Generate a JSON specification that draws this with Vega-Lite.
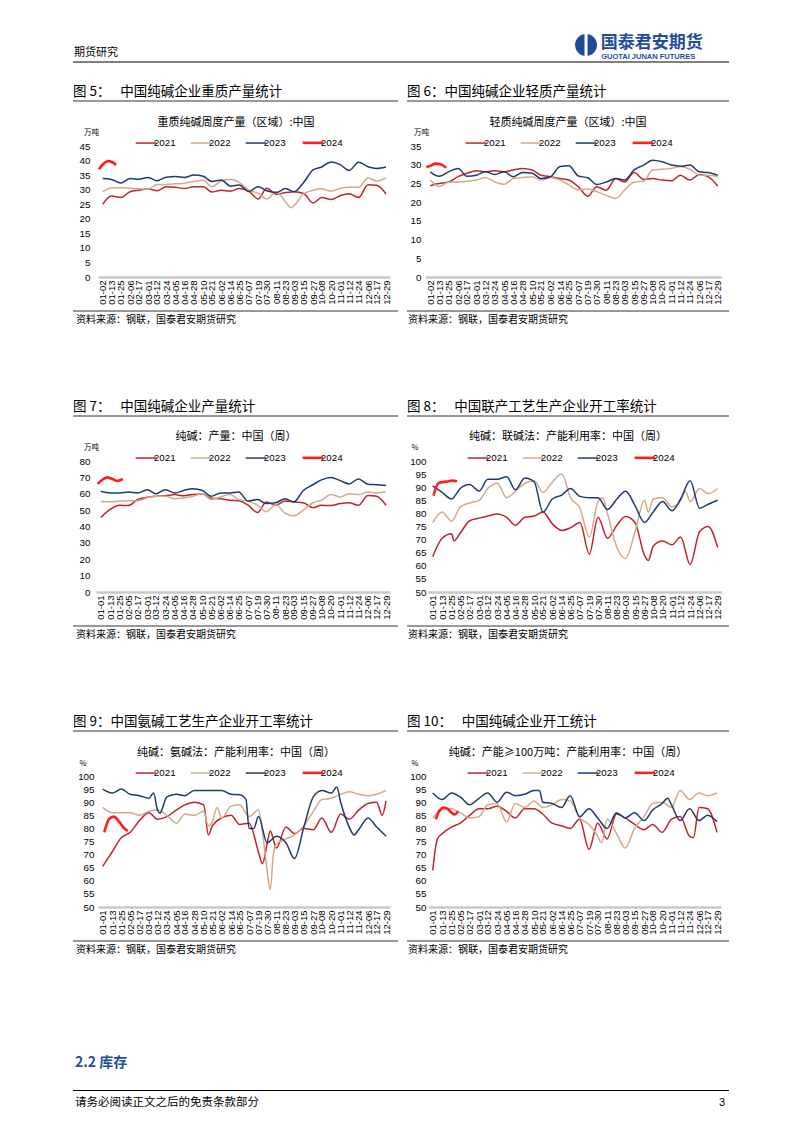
{
"$schema": "https://vega.github.io/schema/vega-lite/v6.json",
"background": "white",
"padding": {"left": 72, "top": 32, "right": 74, "bottom": 24},
"config": {
  "view": {"stroke": null},
  "font": "Noto Sans CJK SC",
  "title": {"anchor": "start", "frame": "group", "fontSize": 13.5, "fontWeight": "normal", "baseline": "bottom", "offset": 2, "font": "Noto Sans CJK SC", "color": "#000"},
  "axis": {"labelFont": "Liberation Sans", "labelColor": "#000", "grid": false, "titleFont": "Noto Sans CJK SC", "titleFontWeight": "normal", "titleColor": "#000"},
  "axisY": {"domain": false, "ticks": false, "labelFontSize": 9.8, "titleAngle": 0, "titleAlign": "center", "titleBaseline": "middle", "titleFontSize": 7.5},
  "axisX": {"domainColor": "#c8c8c8", "domainWidth": 2.5, "ticks": false, "labelAngle": 270, "labelFontSize": 9.5, "labelPadding": 3, "labelOverlap": false, "labelFlush": false, "labelBound": false},
  "legend": {"orient": "none", "direction": "horizontal", "symbolType": "stroke", "symbolSize": 420, "symbolStrokeWidth": 1.5, "labelFontSize": 9.8, "labelFont": "Liberation Sans", "labelColor": "#000", "columnPadding": 11, "labelOffset": 3, "padding": 0},
  "line": {"interpolate": "monotone"}
},
"datasets": {
"c5": [
{"d":"2020-12-28","2024":37},
{"d":"2021-01-02","2021":25,"2022":29.3,"2023":33.8},
{"d":"2021-01-03","2024":38.9},
{"d":"2021-01-09","2024":39.8},
{"d":"2021-01-13","2021":27.8,"2022":30.6,"2023":33.5},
{"d":"2021-01-14","2024":39.5},
{"d":"2021-01-19","2024":38.5},
{"d":"2021-01-25","2021":27.3,"2022":30.7,"2023":32.3},
{"d":"2021-02-06","2021":29.3,"2022":30.5,"2023":33.8},
{"d":"2021-02-17","2021":29.8,"2022":30.3,"2023":33.6},
{"d":"2021-03-01","2021":30.3,"2022":30.2,"2023":34.2},
{"d":"2021-03-12","2021":29.6,"2022":31.8,"2023":33.1},
{"d":"2021-03-24","2021":31,"2022":31.8,"2023":34.3},
{"d":"2021-04-05","2021":30.8,"2022":32,"2023":34.5},
{"d":"2021-04-16","2021":30.4,"2022":32.2,"2023":34.2},
{"d":"2021-04-28","2021":31,"2022":32.8,"2023":35},
{"d":"2021-05-10","2021":31,"2022":33.2,"2023":34.6},
{"d":"2021-05-21","2021":29.2,"2022":31,"2023":32.8},
{"d":"2021-06-02","2021":29.8,"2022":33,"2023":33.3},
{"d":"2021-06-14","2021":29.5,"2022":33.5,"2023":31.2},
{"d":"2021-06-25","2021":30.4,"2022":32.5,"2023":31.6},
{"d":"2021-07-07","2021":29.5,"2022":29.8,"2023":29.4},
{"d":"2021-07-19","2021":26.8,"2022":28.8,"2023":31},
{"d":"2021-07-30","2021":30.5,"2022":26.8,"2023":29.6},
{"d":"2021-08-11","2021":28.4,"2022":29.3,"2023":29},
{"d":"2021-08-23","2021":29,"2022":25.8,"2023":30.4},
{"d":"2021-08-30","2022":23.8},
{"d":"2021-09-03","2021":29.3,"2022":24.6,"2023":29.3},
{"d":"2021-09-15","2021":28.7,"2022":28.6,"2023":32.5},
{"d":"2021-09-27","2021":25.4,"2022":29.8,"2023":36.8},
{"d":"2021-10-08","2021":27.3,"2022":30.3,"2023":37.8},
{"d":"2021-10-20","2021":26.6,"2022":29.5,"2023":39.5},
{"d":"2021-11-01","2021":28,"2022":30.5,"2023":38.5},
{"d":"2021-11-12","2021":28.6,"2022":30.8,"2023":36.6},
{"d":"2021-11-24","2021":27.3,"2022":30.8,"2023":39.4},
{"d":"2021-12-06","2021":31.7,"2022":34,"2023":37.9},
{"d":"2021-12-17","2021":31.5,"2022":33,"2023":37.3},
{"d":"2021-12-29","2021":28.5,"2022":34,"2023":37.8}
],
"c6": [
{"d":"2020-12-28","2024":29.3},
{"d":"2021-01-02","2021":24.4,"2022":25.9,"2023":28.1},
{"d":"2021-01-03","2024":29.8},
{"d":"2021-01-09","2024":30.3},
{"d":"2021-01-13","2021":25,"2022":24.2,"2023":26.9},
{"d":"2021-01-15","2024":30.1},
{"d":"2021-01-22","2024":29.2},
{"d":"2021-01-25","2021":25.4,"2022":25.3,"2023":28.1},
{"d":"2021-02-06","2021":26.8,"2022":25.4,"2023":29},
{"d":"2021-02-17","2021":27.7,"2022":25.6,"2023":26.9},
{"d":"2021-03-01","2021":28.4,"2022":25.9,"2023":27.2},
{"d":"2021-03-12","2021":28.1,"2022":26.6,"2023":28.1},
{"d":"2021-03-24","2021":28.4,"2022":25.4,"2023":27.4},
{"d":"2021-04-05","2021":28.1,"2022":24.8,"2023":28.1},
{"d":"2021-04-16","2021":28.6,"2022":26.3,"2023":26.8},
{"d":"2021-04-28","2021":29,"2022":26.6,"2023":27.9},
{"d":"2021-05-10","2021":28.6,"2022":26.8,"2023":27.7},
{"d":"2021-05-21","2021":27.2,"2022":25.9,"2023":26.3},
{"d":"2021-06-02","2021":26.8,"2022":26.6,"2023":26.8},
{"d":"2021-06-14","2021":26.3,"2022":25.9,"2023":29.5},
{"d":"2021-06-25","2021":25.9,"2022":24.6,"2023":29.7},
{"d":"2021-07-07","2021":24.1,"2022":23.3,"2023":27},
{"d":"2021-07-19","2021":21.6,"2022":23.5,"2023":26.5},
{"d":"2021-07-30","2021":24.1,"2022":22.8,"2023":24.7},
{"d":"2021-08-11","2021":23.2,"2022":21.8,"2023":25.4},
{"d":"2021-08-23","2021":26.3,"2022":21,"2023":26.3},
{"d":"2021-09-03","2021":25.4,"2022":23.2,"2023":25.9},
{"d":"2021-09-15","2021":27.9,"2022":25.4,"2023":28.6},
{"d":"2021-09-27","2021":26.1,"2022":25.6,"2023":29.9},
{"d":"2021-10-08","2021":26.3,"2022":28.6,"2023":31.2},
{"d":"2021-10-20","2021":25.9,"2022":28.8,"2023":30.8},
{"d":"2021-11-01","2021":25.7,"2022":29,"2023":29.9},
{"d":"2021-11-12","2021":27.2,"2022":29.5,"2023":29.6},
{"d":"2021-11-24","2021":25.9,"2022":28.8,"2023":29.9},
{"d":"2021-12-06","2021":27.4,"2022":27.2,"2023":28.1},
{"d":"2021-12-17","2021":26.8,"2022":27.2,"2023":27.9},
{"d":"2021-12-29","2021":24.3,"2022":26.8,"2023":27.2}
],
"c7": [
{"d":"2020-12-28","2024":66},
{"d":"2021-01-01","2021":45.5,"2022":55.2,"2023":61.5},
{"d":"2021-01-03","2024":68.5},
{"d":"2021-01-09","2024":70},
{"d":"2021-01-13","2021":50.5,"2022":55,"2023":60.5},
{"d":"2021-01-16","2024":69},
{"d":"2021-01-22","2024":67.8},
{"d":"2021-01-25","2021":53,"2022":55.5,"2023":60.5},
{"d":"2021-01-29","2024":69},
{"d":"2021-02-05","2021":52.8,"2022":55.8,"2023":61},
{"d":"2021-02-17","2021":56.5,"2022":55.8,"2023":60.5},
{"d":"2021-03-01","2021":57.8,"2022":57.5,"2023":62.5},
{"d":"2021-03-12","2021":58.5,"2022":58.5,"2023":60},
{"d":"2021-03-24","2021":58.8,"2022":58.5,"2023":62.5},
{"d":"2021-04-05","2021":59.5,"2022":57,"2023":60.5},
{"d":"2021-04-16","2021":58.8,"2022":57.5,"2023":62},
{"d":"2021-04-28","2021":59.5,"2022":58.5,"2023":63},
{"d":"2021-05-10","2021":59.8,"2022":60,"2023":62},
{"d":"2021-05-21","2021":57.2,"2022":56.5,"2023":58.5},
{"d":"2021-06-02","2021":57,"2022":58,"2023":60.5},
{"d":"2021-06-14","2021":56,"2022":59.5,"2023":60.5},
{"d":"2021-06-25","2021":55.8,"2022":56.5,"2023":61},
{"d":"2021-07-07","2021":53,"2022":55.5,"2023":55.5},
{"d":"2021-07-19","2021":48.5,"2022":53,"2023":56.5},
{"d":"2021-07-30","2021":55,"2022":49,"2023":54},
{"d":"2021-08-11","2021":53,"2022":53.5,"2023":54.5},
{"d":"2021-08-23","2021":55.5,"2022":48,"2023":57},
{"d":"2021-09-03","2021":55,"2022":46.5,"2023":55},
{"d":"2021-09-15","2021":54.5,"2022":50,"2023":62},
{"d":"2021-09-27","2021":51.5,"2022":54.5,"2023":65.5},
{"d":"2021-10-08","2021":53,"2022":56,"2023":68.5},
{"d":"2021-10-20","2021":52.8,"2022":59.5,"2023":70},
{"d":"2021-11-01","2021":54,"2022":58,"2023":68},
{"d":"2021-11-12","2021":54.5,"2022":60,"2023":66},
{"d":"2021-11-24","2021":53,"2022":59.5,"2023":69},
{"d":"2021-12-06","2021":59,"2022":61,"2023":65.8},
{"d":"2021-12-17","2021":58.5,"2022":60.5,"2023":65.5},
{"d":"2021-12-29","2021":53,"2022":61,"2023":65}
],
"c8": [
{"d":"2021-01-01","2021":63.5,"2022":76.5,"2023":90.5},
{"d":"2021-01-02","2024":86.8},
{"d":"2021-01-08","2024":91.5},
{"d":"2021-01-13","2021":70.5,"2022":80.5,"2023":88},
{"d":"2021-01-14","2024":92},
{"d":"2021-01-20","2024":92.2},
{"d":"2021-01-25","2021":72.2,"2022":77,"2023":85.5},
{"d":"2021-01-26","2024":92.5},
{"d":"2021-01-28","2021":69.5},
{"d":"2021-02-01","2024":92.3},
{"d":"2021-02-05","2021":72.5,"2022":82.5,"2023":89.5},
{"d":"2021-02-17","2021":77.2,"2022":84,"2023":91},
{"d":"2021-03-01","2021":78.2,"2022":85,"2023":88.5},
{"d":"2021-03-12","2021":79,"2022":89.5,"2023":93},
{"d":"2021-03-24","2021":79.8,"2022":91.5,"2023":93},
{"d":"2021-04-05","2021":78.5,"2022":86,"2023":94},
{"d":"2021-04-16","2021":75.5,"2022":88.5,"2023":89},
{"d":"2021-04-28","2021":78.5,"2022":91.5,"2023":93.5},
{"d":"2021-05-10","2021":79,"2022":92.5,"2023":92},
{"d":"2021-05-21","2021":80.5,"2022":88,"2023":80.5},
{"d":"2021-06-02","2021":76,"2022":92,"2023":85.5},
{"d":"2021-06-14","2021":73.5,"2022":95,"2023":87},
{"d":"2021-06-25","2021":74.5,"2022":86,"2023":89.5},
{"d":"2021-07-07","2021":76.5,"2022":82,"2023":86.5},
{"d":"2021-07-19","2021":64.5,"2022":71,"2023":86},
{"d":"2021-07-30","2021":78.5,"2022":84.5,"2023":86},
{"d":"2021-08-05","2022":86},
{"d":"2021-08-11","2021":70.5,"2022":80,"2023":81.5},
{"d":"2021-08-23","2021":75.5,"2022":67,"2023":85.5},
{"d":"2021-09-03","2021":78.8,"2022":62.8,"2023":88.5},
{"d":"2021-09-15","2021":76.5,"2022":73,"2023":83},
{"d":"2021-09-27","2021":64,"2022":85,"2023":76.5},
{"d":"2021-10-02","2021":62,"2022":80.5},
{"d":"2021-10-08","2021":67.5,"2022":85.5,"2023":80.5},
{"d":"2021-10-20","2021":69.5,"2022":86,"2023":84.5},
{"d":"2021-11-01","2021":68,"2022":82.5,"2023":81},
{"d":"2021-11-12","2021":71,"2022":85,"2023":85.5},
{"d":"2021-11-18","2022":88.5},
{"d":"2021-11-24","2021":60.5,"2022":84.5,"2023":92.5},
{"d":"2021-12-06","2021":73,"2022":89.5,"2023":82},
{"d":"2021-12-17","2021":75,"2022":87.5,"2023":83.5},
{"d":"2021-12-29","2021":67,"2022":89.5,"2023":85}
],
"c9": [
{"d":"2021-01-01","2021":65.5,"2022":88,"2023":95},
{"d":"2021-01-03","2024":78.5},
{"d":"2021-01-09","2024":83.5},
{"d":"2021-01-13","2021":71,"2022":86,"2023":93.5},
{"d":"2021-01-15","2024":84.5},
{"d":"2021-01-21","2024":83},
{"d":"2021-01-25","2021":76.5,"2022":86,"2023":95},
{"d":"2021-01-27","2024":80.5},
{"d":"2021-02-02","2024":79},
{"d":"2021-02-05","2021":78.5,"2022":86,"2023":93},
{"d":"2021-02-17","2021":83,"2022":85,"2023":92.5},
{"d":"2021-03-01","2021":86,"2022":86.5,"2023":91.5},
{"d":"2021-03-07","2023":93.5},
{"d":"2021-03-12","2021":83.5,"2022":87,"2023":87},
{"d":"2021-03-15","2023":85.8},
{"d":"2021-03-24","2021":84.5,"2022":85,"2023":92},
{"d":"2021-04-05","2021":87,"2022":82,"2023":93},
{"d":"2021-04-16","2021":89,"2022":85.5,"2023":92.5},
{"d":"2021-04-28","2021":90,"2022":85,"2023":94.5},
{"d":"2021-05-10","2021":89,"2022":86.5,"2023":94.5},
{"d":"2021-05-16","2021":77.5,"2022":81},
{"d":"2021-05-21","2021":81,"2022":82.5,"2023":94.5},
{"d":"2021-05-27","2022":88},
{"d":"2021-06-02","2021":84,"2022":84,"2023":94.5},
{"d":"2021-06-14","2021":85,"2022":88.5,"2023":93},
{"d":"2021-06-25","2021":81.5,"2022":89,"2023":92.8},
{"d":"2021-07-03","2023":91},
{"d":"2021-07-07","2021":82,"2022":84.5,"2023":80},
{"d":"2021-07-13","2023":80},
{"d":"2021-07-19","2021":71,"2022":87,"2023":84.5},
{"d":"2021-07-24","2021":66.5,"2022":79},
{"d":"2021-07-30","2021":74,"2022":64,"2023":74.5},
{"d":"2021-08-03","2021":79,"2022":56.5},
{"d":"2021-08-07","2022":70},
{"d":"2021-08-11","2021":72.5,"2022":74,"2023":77},
{"d":"2021-08-23","2021":80.5,"2022":76,"2023":74.5},
{"d":"2021-09-03","2021":78,"2022":77.5,"2023":68.5},
{"d":"2021-09-15","2021":80,"2022":81,"2023":80.5},
{"d":"2021-09-27","2021":79.5,"2022":86.5,"2023":92},
{"d":"2021-10-08","2021":84,"2022":91,"2023":94.5},
{"d":"2021-10-20","2021":78.5,"2022":91.5,"2023":93.5},
{"d":"2021-10-27","2023":95.8},
{"d":"2021-11-01","2021":85.5,"2022":93,"2023":90},
{"d":"2021-11-12","2021":83.5,"2022":94,"2023":80.5},
{"d":"2021-11-18","2023":77.5},
{"d":"2021-11-24","2021":87,"2022":93,"2023":79.5},
{"d":"2021-12-06","2021":89.5,"2022":92.5,"2023":84},
{"d":"2021-12-17","2021":90,"2022":93,"2023":80.5},
{"d":"2021-12-24","2021":85},
{"d":"2021-12-29","2021":90.5,"2022":94.5,"2023":77}
],
"c10": [
{"d":"2021-01-01","2021":64,"2022":84,"2023":93.5},
{"d":"2021-01-05","2024":83.5},
{"d":"2021-01-07","2021":76},
{"d":"2021-01-10","2024":87},
{"d":"2021-01-13","2021":78,"2022":87,"2023":91},
{"d":"2021-01-15","2024":88},
{"d":"2021-01-20","2024":87.5},
{"d":"2021-01-25","2021":80.5,"2022":87.5,"2023":93.5,"2024":86},
{"d":"2021-01-29","2024":85.3},
{"d":"2021-02-02","2024":86.5},
{"d":"2021-02-05","2021":82,"2022":86,"2023":92},
{"d":"2021-02-17","2021":85,"2022":84,"2023":89},
{"d":"2021-03-01","2021":87.5,"2022":84.5,"2023":91.5},
{"d":"2021-03-12","2021":87.5,"2022":89,"2023":93.5},
{"d":"2021-03-24","2021":88.5,"2022":89.5,"2023":90},
{"d":"2021-04-05","2021":86.5,"2022":82.5,"2023":93.8},
{"d":"2021-04-16","2021":84,"2022":89.5,"2023":92.5},
{"d":"2021-04-28","2021":87.5,"2022":88,"2023":93},
{"d":"2021-05-10","2021":87.5,"2022":90.5,"2023":94.5},
{"d":"2021-05-17","2023":94.5},
{"d":"2021-05-21","2021":85.5,"2022":88,"2023":90},
{"d":"2021-06-02","2021":82,"2022":89,"2023":89.5},
{"d":"2021-06-14","2021":81,"2022":91,"2023":88},
{"d":"2021-06-25","2021":80,"2022":90.5,"2023":92.5},
{"d":"2021-07-07","2021":83.5,"2022":84,"2023":84.5},
{"d":"2021-07-19","2021":72,"2022":81.5,"2023":87.5},
{"d":"2021-07-30","2021":82,"2022":77,"2023":84},
{"d":"2021-08-04","2022":74.5},
{"d":"2021-08-11","2021":76,"2022":83.5,"2023":80},
{"d":"2021-08-23","2021":85.5,"2022":78,"2023":86},
{"d":"2021-09-03","2021":84,"2022":72.5,"2023":84},
{"d":"2021-09-15","2021":81.5,"2022":80,"2023":86},
{"d":"2021-09-27","2021":79.5,"2022":84.5,"2023":83},
{"d":"2021-10-08","2021":81.5,"2022":89.5,"2023":87},
{"d":"2021-10-20","2021":78.5,"2022":90,"2023":89.5},
{"d":"2021-10-27","2023":91.5},
{"d":"2021-11-01","2021":83.5,"2022":88,"2023":89},
{"d":"2021-11-12","2021":84.5,"2022":94.5,"2023":83},
{"d":"2021-11-24","2021":77,"2022":91,"2023":87.5},
{"d":"2021-11-29","2021":76.5},
{"d":"2021-12-06","2021":88,"2022":93.5,"2023":83},
{"d":"2021-12-17","2021":87.5,"2022":92.5,"2023":85},
{"d":"2021-12-29","2021":78.5,"2022":93.5,"2023":82.5}
]
},
"bounds": "flush",
"columns": 2,
"spacing": {"row": 0, "column": 0},
"resolve": {"scale": {"color": "independent"}, "legend": {"color": "independent"}},
"concat": [
{
  "width": 334, "height": 69,
  "data": {"values": [{}]},
  "layer": [
    {"mark": {"type": "rule", "color": "#000", "strokeWidth": 1.2}, "encoding": {"y": {"datum": 0.5652, "type": "quantitative", "scale": {"domain": [0, 1]}, "axis": null}}},
    {"mark": {"type": "text", "text": "期货研究", "align": "left", "baseline": "middle", "fontSize": 11, "dx": 1, "color": "#000"}, "encoding": {"x": {"datum": 0, "type": "quantitative", "scale": {"domain": [0, 1]}, "axis": null}, "y": {"datum": 0.6957, "type": "quantitative", "axis": null}}}
  ]
},
{
  "width": 322, "height": 69,
  "data": {"values": [{}]},
  "layer": [
    {"mark": {"type": "rule", "color": "#000", "strokeWidth": 1.2}, "encoding": {"y": {"datum": 0.5652, "type": "quantitative", "scale": {"domain": [0, 1]}, "axis": null}}},
    {"mark": {"type": "point", "shape": "circle", "filled": true, "size": 480, "color": "#1E4C9A", "opacity": 1}, "encoding": {"x": {"datum": 0.556, "type": "quantitative", "scale": {"domain": [0, 1]}, "axis": null}, "y": {"datum": 0.8116, "type": "quantitative", "axis": null}}},
    {"mark": {"type": "point", "shape": "M-0.12,-1L0.12,-1L0.12,1L-0.12,1Z", "filled": true, "size": 640, "color": "#ffffff", "opacity": 1}, "encoding": {"x": {"datum": 0.556, "type": "quantitative", "axis": null}, "y": {"datum": 0.8116, "type": "quantitative", "axis": null}}},
    {"mark": {"type": "text", "text": "国泰君安期货", "align": "left", "baseline": "middle", "fontSize": 17, "fontWeight": "bold", "color": "#1E4C9A"}, "encoding": {"x": {"datum": 0.602, "type": "quantitative", "axis": null}, "y": {"datum": 0.8406, "type": "quantitative", "axis": null}}},
    {"mark": {"type": "text", "text": "GUOTAI JUNAN FUTURES", "align": "left", "baseline": "middle", "fontSize": 7.5, "fontWeight": "bold", "font": "Liberation Sans", "color": "#1E4C9A"}, "encoding": {"x": {"datum": 0.603, "type": "quantitative", "axis": null}, "y": {"datum": 0.6449, "type": "quantitative", "axis": null}}}
  ]
},
{"width": 334, "height": 44.5, "data": {"values": [{}]}, "title": {"text": "图 5：\u3000 中国纯碱企业重质产量统计"}, "mark": {"type": "rule", "color": "#333", "strokeWidth": 1}, "encoding": {"x": {"datum": 0, "type": "quantitative", "scale": {"domain": [0, 1]}, "axis": null}, "x2": {"datum": 0.973}, "y": {"datum": 1, "type": "quantitative", "scale": {"domain": [0, 1]}, "axis": null}}},
{"width": 322, "height": 44.5, "data": {"values": [{}]}, "title": {"text": "图 6：中国纯碱企业轻质产量统计"}, "mark": {"type": "rule", "color": "#333", "strokeWidth": 1}, "encoding": {"y": {"datum": 1, "type": "quantitative", "scale": {"domain": [0, 1]}, "axis": null}}},
{"width": 334, "height": 131, "data": {"name": "c5"},
 "transform": [{"fold": ["2021", "2022", "2023", "2024"], "as": ["yr", "v"]}, {"filter": "isValid(datum.v)"}],
 "title": {"text": "重质纯碱周度产量（区域）:中国", "anchor": "middle", "fontSize": 11, "offset": 1, "dx": -4},
 "mark": {"type": "line", "interpolate": "monotone"},
 "encoding": {
   "x": {"field": "d", "type": "temporal", "scale": {"type": "utc", "domain": [{"year": 2020, "month": 12, "date": 27, "utc": true}, {"year": 2022, "month": 1, "date": 3, "utc": true}], "range": [25, 317]},
         "axis": {"title": null, "format": "%m-%d", "values": [{"year":2021,"month":1,"date":2,"utc":true},{"year":2021,"month":1,"date":13,"utc":true},{"year":2021,"month":1,"date":25,"utc":true},{"year":2021,"month":2,"date":6,"utc":true},{"year":2021,"month":2,"date":17,"utc":true},{"year":2021,"month":3,"date":1,"utc":true},{"year":2021,"month":3,"date":12,"utc":true},{"year":2021,"month":3,"date":24,"utc":true},{"year":2021,"month":4,"date":5,"utc":true},{"year":2021,"month":4,"date":16,"utc":true},{"year":2021,"month":4,"date":28,"utc":true},{"year":2021,"month":5,"date":10,"utc":true},{"year":2021,"month":5,"date":21,"utc":true},{"year":2021,"month":6,"date":2,"utc":true},{"year":2021,"month":6,"date":14,"utc":true},{"year":2021,"month":6,"date":25,"utc":true},{"year":2021,"month":7,"date":7,"utc":true},{"year":2021,"month":7,"date":19,"utc":true},{"year":2021,"month":7,"date":30,"utc":true},{"year":2021,"month":8,"date":11,"utc":true},{"year":2021,"month":8,"date":23,"utc":true},{"year":2021,"month":9,"date":3,"utc":true},{"year":2021,"month":9,"date":15,"utc":true},{"year":2021,"month":9,"date":27,"utc":true},{"year":2021,"month":10,"date":8,"utc":true},{"year":2021,"month":10,"date":20,"utc":true},{"year":2021,"month":11,"date":1,"utc":true},{"year":2021,"month":11,"date":12,"utc":true},{"year":2021,"month":11,"date":24,"utc":true},{"year":2021,"month":12,"date":6,"utc":true},{"year":2021,"month":12,"date":17,"utc":true},{"year":2021,"month":12,"date":29,"utc":true}]}},
   "y": {"field": "v", "type": "quantitative", "scale": {"domain": [0, 45], "nice": false}, "axis": {"values": [0,5,10,15,20,25,30,35,40,45], "title": "万吨", "offset": -25, "labelPadding": 8, "titleX": -7, "titleY": -13.5}},
   "color": {"field": "yr", "type": "nominal", "scale": {"domain": ["2021", "2022", "2023", "2024"], "range": ["#C0232C", "#D4AA88", "#1C3C6E", "#FF1E1E"]}, "legend": {"title": null, "legendX": 68, "legendY": -8.5, "encode": {"symbols": {"update": {"strokeWidth": {"signal": "datum.value === '2024' ? 2.6 : 1.5"}}}}}},
   "strokeWidth": {"condition": {"test": "datum.yr === '2024'", "value": 2.6}, "value": 1.5}
 }},
{"width": 322, "height": 131, "data": {"name": "c6"},
 "transform": [{"fold": ["2021", "2022", "2023", "2024"], "as": ["yr", "v"]}, {"filter": "isValid(datum.v)"}],
 "title": {"text": "轻质纯碱周度产量（区域）:中国", "anchor": "middle", "fontSize": 11, "offset": 1},
 "mark": {"type": "line", "interpolate": "monotone"},
 "encoding": {
   "x": {"field": "d", "type": "temporal", "scale": {"type": "utc", "domain": [{"year": 2020, "month": 12, "date": 27, "utc": true}, {"year": 2022, "month": 1, "date": 3, "utc": true}], "range": [18.5, 314.7]},
         "axis": {"title": null, "format": "%m-%d", "values": [{"year":2021,"month":1,"date":2,"utc":true},{"year":2021,"month":1,"date":13,"utc":true},{"year":2021,"month":1,"date":25,"utc":true},{"year":2021,"month":2,"date":6,"utc":true},{"year":2021,"month":2,"date":17,"utc":true},{"year":2021,"month":3,"date":1,"utc":true},{"year":2021,"month":3,"date":12,"utc":true},{"year":2021,"month":3,"date":24,"utc":true},{"year":2021,"month":4,"date":5,"utc":true},{"year":2021,"month":4,"date":16,"utc":true},{"year":2021,"month":4,"date":28,"utc":true},{"year":2021,"month":5,"date":10,"utc":true},{"year":2021,"month":5,"date":21,"utc":true},{"year":2021,"month":6,"date":2,"utc":true},{"year":2021,"month":6,"date":14,"utc":true},{"year":2021,"month":6,"date":25,"utc":true},{"year":2021,"month":7,"date":7,"utc":true},{"year":2021,"month":7,"date":19,"utc":true},{"year":2021,"month":7,"date":30,"utc":true},{"year":2021,"month":8,"date":11,"utc":true},{"year":2021,"month":8,"date":23,"utc":true},{"year":2021,"month":9,"date":3,"utc":true},{"year":2021,"month":9,"date":15,"utc":true},{"year":2021,"month":9,"date":27,"utc":true},{"year":2021,"month":10,"date":8,"utc":true},{"year":2021,"month":10,"date":20,"utc":true},{"year":2021,"month":11,"date":1,"utc":true},{"year":2021,"month":11,"date":12,"utc":true},{"year":2021,"month":11,"date":24,"utc":true},{"year":2021,"month":12,"date":6,"utc":true},{"year":2021,"month":12,"date":17,"utc":true},{"year":2021,"month":12,"date":29,"utc":true}]}},
   "y": {"field": "v", "type": "quantitative", "scale": {"domain": [0, 35], "nice": false}, "axis": {"values": [0,5,10,15,20,25,30,35], "title": "万吨", "offset": -18.5, "labelPadding": 4.5, "titleX": -4.5, "titleY": -13.5}},
   "color": {"field": "yr", "type": "nominal", "scale": {"domain": ["2021", "2022", "2023", "2024"], "range": ["#C0232C", "#D4AA88", "#1C3C6E", "#FF1E1E"]}, "legend": {"title": null, "legendX": 64, "legendY": -8.5, "encode": {"symbols": {"update": {"strokeWidth": {"signal": "datum.value === '2024' ? 2.6 : 1.5"}}}}}},
   "strokeWidth": {"condition": {"test": "datum.yr === '2024'", "value": 2.6}, "value": 1.5}
 }},
{"width": 334, "height": 138.5, "data": {"values": [{"t": "资料来源：钢联，国泰君安期货研究"}]}, "layer": [
  {"mark": {"type": "rule", "color": "#333", "strokeWidth": 1}, "encoding": {"x": {"datum": 0, "type": "quantitative", "scale": {"domain": [0, 1]}, "axis": null}, "x2": {"datum": 0.973}, "y": {"datum": 0.7545, "type": "quantitative", "scale": {"domain": [0, 1]}, "axis": null}}},
  {"mark": {"type": "text", "align": "left", "baseline": "middle", "fontSize": 10, "dx": 3, "color": "#000"}, "encoding": {"text": {"field": "t"}, "x": {"datum": 0, "type": "quantitative", "axis": null}, "y": {"datum": 0.691, "type": "quantitative", "axis": null}}}
]},
{"width": 322, "height": 138.5, "data": {"values": [{"t": "资料来源：钢联，国泰君安期货研究"}]}, "layer": [
  {"mark": {"type": "rule", "color": "#333", "strokeWidth": 1}, "encoding": {"y": {"datum": 0.7545, "type": "quantitative", "scale": {"domain": [0, 1]}, "axis": null}}},
  {"mark": {"type": "text", "align": "left", "baseline": "middle", "fontSize": 10, "dx": 1, "color": "#000"}, "encoding": {"text": {"field": "t"}, "x": {"datum": 0, "type": "quantitative", "scale": {"domain": [0, 1]}, "axis": null}, "y": {"datum": 0.691, "type": "quantitative", "axis": null}}}
]},
{"width": 334, "height": 44.5, "data": {"values": [{}]}, "title": {"text": "图 7：\u3000 中国纯碱企业产量统计"}, "mark": {"type": "rule", "color": "#333", "strokeWidth": 1}, "encoding": {"x": {"datum": 0, "type": "quantitative", "scale": {"domain": [0, 1]}, "axis": null}, "x2": {"datum": 0.973}, "y": {"datum": 1, "type": "quantitative", "scale": {"domain": [0, 1]}, "axis": null}}},
{"width": 322, "height": 44.5, "data": {"values": [{}]}, "title": {"text": "图 8：\u3000 中国联产工艺生产企业开工率统计"}, "mark": {"type": "rule", "color": "#333", "strokeWidth": 1}, "encoding": {"y": {"datum": 1, "type": "quantitative", "scale": {"domain": [0, 1]}, "axis": null}}},
{"width": 334, "height": 131, "data": {"name": "c7"},
 "transform": [{"fold": ["2021", "2022", "2023", "2024"], "as": ["yr", "v"]}, {"filter": "isValid(datum.v)"}],
 "title": {"text": "纯碱：产量：中国（周）", "anchor": "middle", "fontSize": 11, "offset": 1, "dx": -4},
 "mark": {"type": "line", "interpolate": "monotone"},
 "encoding": {
   "x": {"field": "d", "type": "temporal", "scale": {"type": "utc", "domain": [{"year": 2020, "month": 12, "date": 26, "utc": true}, {"year": 2022, "month": 1, "date": 3, "utc": true}], "range": [23, 317]},
         "axis": {"title": null, "format": "%m-%d", "values": [{"year":2021,"month":1,"date":1,"utc":true},{"year":2021,"month":1,"date":13,"utc":true},{"year":2021,"month":1,"date":25,"utc":true},{"year":2021,"month":2,"date":5,"utc":true},{"year":2021,"month":2,"date":17,"utc":true},{"year":2021,"month":3,"date":1,"utc":true},{"year":2021,"month":3,"date":12,"utc":true},{"year":2021,"month":3,"date":24,"utc":true},{"year":2021,"month":4,"date":5,"utc":true},{"year":2021,"month":4,"date":16,"utc":true},{"year":2021,"month":4,"date":28,"utc":true},{"year":2021,"month":5,"date":10,"utc":true},{"year":2021,"month":5,"date":21,"utc":true},{"year":2021,"month":6,"date":2,"utc":true},{"year":2021,"month":6,"date":14,"utc":true},{"year":2021,"month":6,"date":25,"utc":true},{"year":2021,"month":7,"date":7,"utc":true},{"year":2021,"month":7,"date":19,"utc":true},{"year":2021,"month":7,"date":30,"utc":true},{"year":2021,"month":8,"date":11,"utc":true},{"year":2021,"month":8,"date":23,"utc":true},{"year":2021,"month":9,"date":3,"utc":true},{"year":2021,"month":9,"date":15,"utc":true},{"year":2021,"month":9,"date":27,"utc":true},{"year":2021,"month":10,"date":8,"utc":true},{"year":2021,"month":10,"date":20,"utc":true},{"year":2021,"month":11,"date":1,"utc":true},{"year":2021,"month":11,"date":12,"utc":true},{"year":2021,"month":11,"date":24,"utc":true},{"year":2021,"month":12,"date":6,"utc":true},{"year":2021,"month":12,"date":17,"utc":true},{"year":2021,"month":12,"date":29,"utc":true}]}},
   "y": {"field": "v", "type": "quantitative", "scale": {"domain": [0, 80], "nice": false}, "axis": {"values": [0,10,20,30,40,50,60,70,80], "title": "万吨", "offset": -23, "labelPadding": 6, "titleX": -5, "titleY": -14}},
   "color": {"field": "yr", "type": "nominal", "scale": {"domain": ["2021", "2022", "2023", "2024"], "range": ["#C0232C", "#D4AA88", "#1C3C6E", "#FF1E1E"]}, "legend": {"title": null, "legendX": 68, "legendY": -8.5, "encode": {"symbols": {"update": {"strokeWidth": {"signal": "datum.value === '2024' ? 2.6 : 1.5"}}}}}},
   "strokeWidth": {"condition": {"test": "datum.yr === '2024'", "value": 2.6}, "value": 1.5}
 }},
{"width": 322, "height": 131, "data": {"name": "c8"},
 "transform": [{"fold": ["2021", "2022", "2023", "2024"], "as": ["yr", "v"]}, {"filter": "isValid(datum.v)"}],
 "title": {"text": "纯碱：联碱法：产能利用率：中国（周）", "anchor": "middle", "fontSize": 11, "offset": 1},
 "mark": {"type": "line", "interpolate": "monotone"},
 "encoding": {
   "x": {"field": "d", "type": "temporal", "scale": {"type": "utc", "domain": [{"year": 2020, "month": 12, "date": 26, "utc": true}, {"year": 2022, "month": 1, "date": 3, "utc": true}], "range": [21, 314.6]},
         "axis": {"title": null, "format": "%m-%d", "values": [{"year":2021,"month":1,"date":1,"utc":true},{"year":2021,"month":1,"date":13,"utc":true},{"year":2021,"month":1,"date":25,"utc":true},{"year":2021,"month":2,"date":5,"utc":true},{"year":2021,"month":2,"date":17,"utc":true},{"year":2021,"month":3,"date":1,"utc":true},{"year":2021,"month":3,"date":12,"utc":true},{"year":2021,"month":3,"date":24,"utc":true},{"year":2021,"month":4,"date":5,"utc":true},{"year":2021,"month":4,"date":16,"utc":true},{"year":2021,"month":4,"date":28,"utc":true},{"year":2021,"month":5,"date":10,"utc":true},{"year":2021,"month":5,"date":21,"utc":true},{"year":2021,"month":6,"date":2,"utc":true},{"year":2021,"month":6,"date":14,"utc":true},{"year":2021,"month":6,"date":25,"utc":true},{"year":2021,"month":7,"date":7,"utc":true},{"year":2021,"month":7,"date":19,"utc":true},{"year":2021,"month":7,"date":30,"utc":true},{"year":2021,"month":8,"date":11,"utc":true},{"year":2021,"month":8,"date":23,"utc":true},{"year":2021,"month":9,"date":3,"utc":true},{"year":2021,"month":9,"date":15,"utc":true},{"year":2021,"month":9,"date":27,"utc":true},{"year":2021,"month":10,"date":8,"utc":true},{"year":2021,"month":10,"date":20,"utc":true},{"year":2021,"month":11,"date":1,"utc":true},{"year":2021,"month":11,"date":12,"utc":true},{"year":2021,"month":11,"date":24,"utc":true},{"year":2021,"month":12,"date":6,"utc":true},{"year":2021,"month":12,"date":17,"utc":true},{"year":2021,"month":12,"date":29,"utc":true}]}},
   "y": {"field": "v", "type": "quantitative", "scale": {"domain": [50, 100], "nice": false, "zero": false}, "axis": {"values": [50,55,60,65,70,75,80,85,90,95,100], "title": "%", "offset": -21, "labelPadding": 2, "titleX": -13.5, "titleY": -14}},
   "color": {"field": "yr", "type": "nominal", "scale": {"domain": ["2021", "2022", "2023", "2024"], "range": ["#C0232C", "#D4AA88", "#1C3C6E", "#FF1E1E"]}, "legend": {"title": null, "legendX": 66, "legendY": -8.5, "encode": {"symbols": {"update": {"strokeWidth": {"signal": "datum.value === '2024' ? 2.6 : 1.5"}}}}}},
   "strokeWidth": {"condition": {"test": "datum.yr === '2024'", "value": 2.6}, "value": 1.5}
 }},
{"width": 334, "height": 138.5, "data": {"values": [{"t": "资料来源：钢联，国泰君安期货研究"}]}, "layer": [
  {"mark": {"type": "rule", "color": "#333", "strokeWidth": 1}, "encoding": {"x": {"datum": 0, "type": "quantitative", "scale": {"domain": [0, 1]}, "axis": null}, "x2": {"datum": 0.973}, "y": {"datum": 0.7545, "type": "quantitative", "scale": {"domain": [0, 1]}, "axis": null}}},
  {"mark": {"type": "text", "align": "left", "baseline": "middle", "fontSize": 10, "dx": 3, "color": "#000"}, "encoding": {"text": {"field": "t"}, "x": {"datum": 0, "type": "quantitative", "axis": null}, "y": {"datum": 0.691, "type": "quantitative", "axis": null}}}
]},
{"width": 322, "height": 138.5, "data": {"values": [{"t": "资料来源：钢联，国泰君安期货研究"}]}, "layer": [
  {"mark": {"type": "rule", "color": "#333", "strokeWidth": 1}, "encoding": {"y": {"datum": 0.7545, "type": "quantitative", "scale": {"domain": [0, 1]}, "axis": null}}},
  {"mark": {"type": "text", "align": "left", "baseline": "middle", "fontSize": 10, "dx": 1, "color": "#000"}, "encoding": {"text": {"field": "t"}, "x": {"datum": 0, "type": "quantitative", "scale": {"domain": [0, 1]}, "axis": null}, "y": {"datum": 0.691, "type": "quantitative", "axis": null}}}
]},
{"width": 334, "height": 44.5, "data": {"values": [{}]}, "title": {"text": "图 9：中国氨碱工艺生产企业开工率统计"}, "mark": {"type": "rule", "color": "#333", "strokeWidth": 1}, "encoding": {"x": {"datum": 0, "type": "quantitative", "scale": {"domain": [0, 1]}, "axis": null}, "x2": {"datum": 0.973}, "y": {"datum": 1, "type": "quantitative", "scale": {"domain": [0, 1]}, "axis": null}}},
{"width": 322, "height": 44.5, "data": {"values": [{}]}, "title": {"text": "图 10：\u3000 中国纯碱企业开工统计"}, "mark": {"type": "rule", "color": "#333", "strokeWidth": 1}, "encoding": {"y": {"datum": 1, "type": "quantitative", "scale": {"domain": [0, 1]}, "axis": null}}},
{"width": 334, "height": 131, "data": {"name": "c9"},
 "transform": [{"fold": ["2021", "2022", "2023", "2024"], "as": ["yr", "v"]}, {"filter": "isValid(datum.v)"}],
 "title": {"text": "纯碱：氨碱法：产能利用率：中国（周）", "anchor": "middle", "fontSize": 11, "offset": 1, "dx": -4},
 "mark": {"type": "line", "interpolate": "monotone"},
 "encoding": {
   "x": {"field": "d", "type": "temporal", "scale": {"type": "utc", "domain": [{"year": 2020, "month": 12, "date": 26, "utc": true}, {"year": 2022, "month": 1, "date": 3, "utc": true}], "range": [25, 317]},
         "axis": {"title": null, "format": "%m-%d", "values": [{"year":2021,"month":1,"date":1,"utc":true},{"year":2021,"month":1,"date":13,"utc":true},{"year":2021,"month":1,"date":25,"utc":true},{"year":2021,"month":2,"date":5,"utc":true},{"year":2021,"month":2,"date":17,"utc":true},{"year":2021,"month":3,"date":1,"utc":true},{"year":2021,"month":3,"date":12,"utc":true},{"year":2021,"month":3,"date":24,"utc":true},{"year":2021,"month":4,"date":5,"utc":true},{"year":2021,"month":4,"date":16,"utc":true},{"year":2021,"month":4,"date":28,"utc":true},{"year":2021,"month":5,"date":10,"utc":true},{"year":2021,"month":5,"date":21,"utc":true},{"year":2021,"month":6,"date":2,"utc":true},{"year":2021,"month":6,"date":14,"utc":true},{"year":2021,"month":6,"date":25,"utc":true},{"year":2021,"month":7,"date":7,"utc":true},{"year":2021,"month":7,"date":19,"utc":true},{"year":2021,"month":7,"date":30,"utc":true},{"year":2021,"month":8,"date":11,"utc":true},{"year":2021,"month":8,"date":23,"utc":true},{"year":2021,"month":9,"date":3,"utc":true},{"year":2021,"month":9,"date":15,"utc":true},{"year":2021,"month":9,"date":27,"utc":true},{"year":2021,"month":10,"date":8,"utc":true},{"year":2021,"month":10,"date":20,"utc":true},{"year":2021,"month":11,"date":1,"utc":true},{"year":2021,"month":11,"date":12,"utc":true},{"year":2021,"month":11,"date":24,"utc":true},{"year":2021,"month":12,"date":6,"utc":true},{"year":2021,"month":12,"date":17,"utc":true},{"year":2021,"month":12,"date":29,"utc":true}]}},
   "y": {"field": "v", "type": "quantitative", "scale": {"domain": [50, 100], "nice": false, "zero": false}, "axis": {"values": [50,55,60,65,70,75,80,85,90,95,100], "title": "%", "offset": -25, "labelPadding": 4, "titleX": -15.5, "titleY": -13}},
   "color": {"field": "yr", "type": "nominal", "scale": {"domain": ["2021", "2022", "2023", "2024"], "range": ["#C0232C", "#D4AA88", "#1C3C6E", "#FF1E1E"]}, "legend": {"title": null, "legendX": 68, "legendY": -8.5, "encode": {"symbols": {"update": {"strokeWidth": {"signal": "datum.value === '2024' ? 2.6 : 1.5"}}}}}},
   "strokeWidth": {"condition": {"test": "datum.yr === '2024'", "value": 2.6}, "value": 1.5}
 }},
{"width": 322, "height": 131, "data": {"name": "c10"},
 "transform": [{"fold": ["2021", "2022", "2023", "2024"], "as": ["yr", "v"]}, {"filter": "isValid(datum.v)"}],
 "title": {"text": "纯碱：产能≥100万吨：产能利用率：中国（周）", "anchor": "middle", "fontSize": 11, "offset": 1},
 "mark": {"type": "line", "interpolate": "monotone"},
 "encoding": {
   "x": {"field": "d", "type": "temporal", "scale": {"type": "utc", "domain": [{"year": 2020, "month": 12, "date": 26, "utc": true}, {"year": 2022, "month": 1, "date": 3, "utc": true}], "range": [21, 314]},
         "axis": {"title": null, "format": "%m-%d", "values": [{"year":2021,"month":1,"date":1,"utc":true},{"year":2021,"month":1,"date":13,"utc":true},{"year":2021,"month":1,"date":25,"utc":true},{"year":2021,"month":2,"date":5,"utc":true},{"year":2021,"month":2,"date":17,"utc":true},{"year":2021,"month":3,"date":1,"utc":true},{"year":2021,"month":3,"date":12,"utc":true},{"year":2021,"month":3,"date":24,"utc":true},{"year":2021,"month":4,"date":5,"utc":true},{"year":2021,"month":4,"date":16,"utc":true},{"year":2021,"month":4,"date":28,"utc":true},{"year":2021,"month":5,"date":10,"utc":true},{"year":2021,"month":5,"date":21,"utc":true},{"year":2021,"month":6,"date":2,"utc":true},{"year":2021,"month":6,"date":14,"utc":true},{"year":2021,"month":6,"date":25,"utc":true},{"year":2021,"month":7,"date":7,"utc":true},{"year":2021,"month":7,"date":19,"utc":true},{"year":2021,"month":7,"date":30,"utc":true},{"year":2021,"month":8,"date":11,"utc":true},{"year":2021,"month":8,"date":23,"utc":true},{"year":2021,"month":9,"date":3,"utc":true},{"year":2021,"month":9,"date":15,"utc":true},{"year":2021,"month":9,"date":27,"utc":true},{"year":2021,"month":10,"date":8,"utc":true},{"year":2021,"month":10,"date":20,"utc":true},{"year":2021,"month":11,"date":1,"utc":true},{"year":2021,"month":11,"date":12,"utc":true},{"year":2021,"month":11,"date":24,"utc":true},{"year":2021,"month":12,"date":6,"utc":true},{"year":2021,"month":12,"date":17,"utc":true},{"year":2021,"month":12,"date":29,"utc":true}]}},
   "y": {"field": "v", "type": "quantitative", "scale": {"domain": [50, 100], "nice": false, "zero": false}, "axis": {"values": [50,55,60,65,70,75,80,85,90,95,100], "title": "%", "offset": -21, "labelPadding": 2, "titleX": -13.5, "titleY": -13}},
   "color": {"field": "yr", "type": "nominal", "scale": {"domain": ["2021", "2022", "2023", "2024"], "range": ["#C0232C", "#D4AA88", "#1C3C6E", "#FF1E1E"]}, "legend": {"title": null, "legendX": 66, "legendY": -8.5, "encode": {"symbols": {"update": {"strokeWidth": {"signal": "datum.value === '2024' ? 2.6 : 1.5"}}}}}},
   "strokeWidth": {"condition": {"test": "datum.yr === '2024'", "value": 2.6}, "value": 1.5}
 }},
{"width": 334, "height": 50, "data": {"values": [{"t": "资料来源：钢联，国泰君安期货研究"}]}, "layer": [
  {"mark": {"type": "rule", "color": "#333", "strokeWidth": 1}, "encoding": {"x": {"datum": 0, "type": "quantitative", "scale": {"domain": [0, 1]}, "axis": null}, "x2": {"datum": 0.973}, "y": {"datum": 0.32, "type": "quantitative", "scale": {"domain": [0, 1]}, "axis": null}}},
  {"mark": {"type": "text", "align": "left", "baseline": "middle", "fontSize": 10, "dx": 3, "color": "#000"}, "encoding": {"text": {"field": "t"}, "x": {"datum": 0, "type": "quantitative", "axis": null}, "y": {"datum": 0.144, "type": "quantitative", "axis": null}}}
]},
{"width": 322, "height": 50, "data": {"values": [{"t": "资料来源：钢联，国泰君安期货研究"}]}, "layer": [
  {"mark": {"type": "rule", "color": "#333", "strokeWidth": 1}, "encoding": {"y": {"datum": 0.32, "type": "quantitative", "scale": {"domain": [0, 1]}, "axis": null}}},
  {"mark": {"type": "text", "align": "left", "baseline": "middle", "fontSize": 10, "dx": 1, "color": "#000"}, "encoding": {"text": {"field": "t"}, "x": {"datum": 0, "type": "quantitative", "scale": {"domain": [0, 1]}, "axis": null}, "y": {"datum": 0.144, "type": "quantitative", "axis": null}}}
]},
{
  "width": 334, "height": 155.5,
  "data": {"values": [{}]},
  "layer": [
    {"mark": {"type": "rule", "color": "#000", "strokeWidth": 1.2}, "encoding": {"y": {"datum": 0.1415, "type": "quantitative", "scale": {"domain": [0, 1]}, "axis": null}}},
    {"mark": {"type": "text", "text": "2.2  库存", "align": "left", "baseline": "middle", "fontSize": 14, "fontWeight": "bold", "dx": 2, "color": "#1F4E9A"}, "encoding": {"x": {"datum": 0, "type": "quantitative", "scale": {"domain": [0, 1]}, "axis": null}, "y": {"datum": 0.3215, "type": "quantitative", "axis": null}}},
    {"mark": {"type": "text", "text": "请务必阅读正文之后的免责条款部分", "align": "left", "baseline": "middle", "fontSize": 11.5, "dx": 2, "color": "#000"}, "encoding": {"x": {"datum": 0, "type": "quantitative", "axis": null}, "y": {"datum": 0.0579, "type": "quantitative", "axis": null}}}
  ]
},
{
  "width": 322, "height": 155.5,
  "data": {"values": [{}]},
  "layer": [
    {"mark": {"type": "rule", "color": "#000", "strokeWidth": 1.2}, "encoding": {"y": {"datum": 0.1415, "type": "quantitative", "scale": {"domain": [0, 1]}, "axis": null}}},
    {"mark": {"type": "text", "text": "3", "align": "right", "baseline": "middle", "fontSize": 11, "font": "Liberation Sans", "dx": -4, "color": "#000"}, "encoding": {"x": {"datum": 1, "type": "quantitative", "scale": {"domain": [0, 1]}, "axis": null}, "y": {"datum": 0.0579, "type": "quantitative", "axis": null}}}
  ]
}
]
}
